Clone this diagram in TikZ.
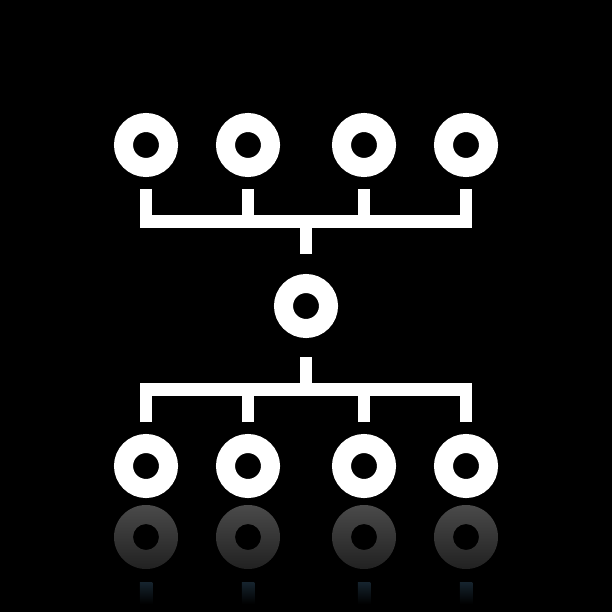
\documentclass[tikz,border=0pt]{standalone}
\definecolor{reftop}{gray}{0.29}
\definecolor{refbot}{gray}{0.13}
\definecolor{stubtop}{RGB}{22,36,46}
\begin{document}
\begin{tikzpicture}[x=1pt,y=-1pt,
    ring/.style={circle,draw=white,line width=19pt,minimum size=45pt,inner sep=0pt,outer sep=9.5pt},
    link/.style={draw=white,line width=12.5pt}]
    % 背景
    \fill[black] (0,0) rectangle (612,612);

    % 圆环
    \foreach \n/\x in {1/146,2/248,3/364,4/466}{
        \node[ring] (t\n) at (\x,145) {};
        \node[ring] (b\n) at (\x,466) {};
    }
    \node[ring] (m) at (306,306) {};

    % 上方连线
    \coordinate (tj) at (306,221.5);
    \draw[link] ([yshift=-12pt]t1.south) |- (tj) -| ([yshift=-12pt]t4.south);
    \draw[link] ([yshift=-12pt]t2.south) -- (t2 |- tj);
    \draw[link] ([yshift=-12pt]t3.south) -- (t3 |- tj);
    \draw[link] (tj) -- ([yshift=20pt]m.north);

    % 下方连线
    \coordinate (bj) at (306,389.5);
    \draw[link] ([yshift=-19pt]m.south) -- (bj);
    \draw[link] ([yshift=12pt]b1.north) |- (bj) -| ([yshift=12pt]b4.north);
    \draw[link] ([yshift=12pt]b2.north) -- (b2 |- bj);
    \draw[link] ([yshift=12pt]b3.north) -- (b3 |- bj);

    % 倒影
    \foreach \x in {146,248,364,466}{
        \shade[top color=reftop,bottom color=refbot,even odd rule]
            (\x,537) circle (32pt) (\x,537) circle (13pt);
        \shade[top color=stubtop,bottom color=black]
            (\x-6.25,582) rectangle (\x+6.25,604);
    }
\end{tikzpicture}
\end{document}
